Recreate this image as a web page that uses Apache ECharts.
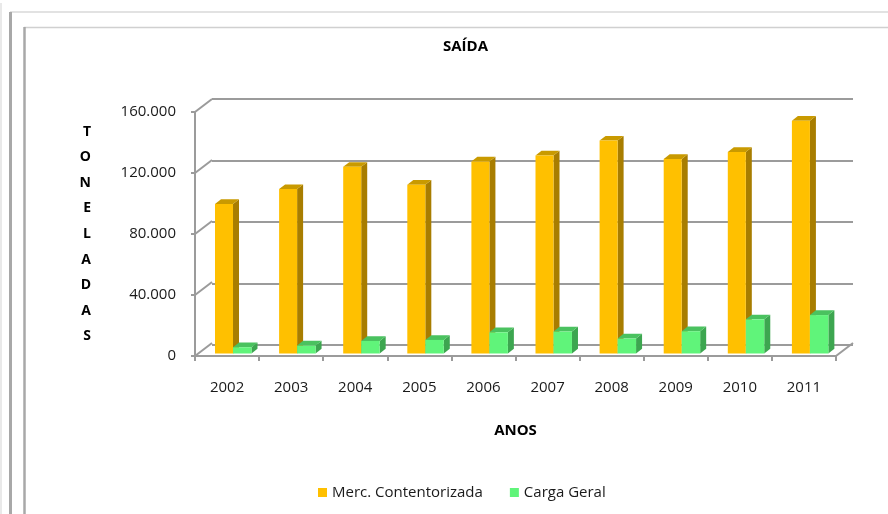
<!DOCTYPE html>
<html>
<head>
<meta charset="utf-8">
<script src="https://cdn.jsdelivr.net/npm/echarts@6/dist/echarts.min.js"></script>
<style>
  html, body { margin: 0; padding: 0; background: #fff; }
  #chart { width: 888px; height: 514px; }
</style>
</head>
<body>
<div id="chart"></div>
<script>
// dados
const years = ["2002", "2003", "2004", "2005", "2006", "2007", "2008", "2009", "2010", "2011"];
const mercContentorizada = [98000, 107800, 122400, 110700, 125900, 129800, 139600, 127600, 132200, 152700];
const cargaGeral = [4100, 5200, 8200, 8900, 13900, 14400, 9800, 14600, 22400, 25200];
const yTicks = [0, 40000, 80000, 120000, 160000];

const FONT = "Open Sans";
const GRID_COLOR = "#9b9b9b";
const DEPTH_X = 17, DEPTH_Y = 13; // profundidade da parede (perspectiva)
const BAR_DX = 6, BAR_DY = 4.7;   // profundidade das barras

function fmt(v) {
  return String(v).replace(/\B(?=(\d{3})+(?!\d))/g, ".");
}

// barra 3D: face frontal, lateral e topo
function bar3d(fromFrac, toFrac, front, side, top) {
  return function (params, api) {
    const i = api.value(0);
    const v = api.value(1);
    const band = api.size([1, 0])[0];
    const left = api.coord([i, 0])[0] - band / 2;
    const x0 = left + band * fromFrac;
    const x1 = left + band * toFrac;
    const yb = api.coord([i, 0])[1] - 2.5;
    const yt = api.coord([i, v])[1] - 2.5;
    return {
      type: "group",
      children: [
        { type: "polygon", shape: { points: [[x1, yt], [x1 + BAR_DX, yt - BAR_DY], [x1 + BAR_DX, yb - BAR_DY], [x1, yb]] }, style: { fill: side } },
        { type: "polygon", shape: { points: [[x0, yt], [x1, yt], [x1 + BAR_DX, yt - BAR_DY], [x0 + BAR_DX, yt - BAR_DY]] }, style: { fill: top } },
        { type: "rect", shape: { x: x0, y: yt, width: x1 - x0, height: yb - yt }, style: { fill: front } }
      ]
    };
  };
}

// linhas diagonais da parede lateral e do chão
function wallLines(params, api) {
  const cs = params.coordSys;
  const v = api.value(1);
  const y = api.coord([0, v])[1];
  const children = [
    { type: "line", shape: { x1: cs.x, y1: y, x2: cs.x + DEPTH_X, y2: y - DEPTH_Y }, style: { stroke: GRID_COLOR, lineWidth: 2 } }
  ];
  if (v === 0) {
    children.push({ type: "line", shape: { x1: cs.x + cs.width, y1: y, x2: cs.x + cs.width + DEPTH_X, y2: y - DEPTH_Y }, style: { stroke: GRID_COLOR, lineWidth: 2 } });
  }
  return { type: "group", children: children };
}

const chart = echarts.init(document.getElementById("chart"));

const option = {
  backgroundColor: "#fff",
  animation: false,
  textStyle: { fontFamily: FONT },
  title: {
    text: "SAÍDA",
    left: 443,
    top: 39,
    padding: 0,
    textStyle: { fontFamily: FONT, fontSize: 15, fontWeight: "bold", color: "#000" }
  },
  legend: {
    data: ["Merc. Contentorizada", "Carga Geral"],
    left: 313,
    top: 480,
    icon: "rect",
    itemWidth: 9,
    itemHeight: 9,
    itemGap: 27,
    textStyle: { fontFamily: FONT, fontSize: 15, color: "#1a1a1a" }
  },
  graphic: [
    { type: "line", shape: { x1: 1, y1: 3, x2: 1, y2: 514 }, style: { stroke: "#e2e2e2", lineWidth: 1.5 } },
    { type: "line", shape: { x1: 10, y1: 12, x2: 888, y2: 12 }, style: { stroke: "#d8d8d8", lineWidth: 1.5 } },
    { type: "line", shape: { x1: 10.5, y1: 12, x2: 10.5, y2: 514 }, style: { stroke: "#a8a8a8", lineWidth: 3 } },
    { type: "line", shape: { x1: 24, y1: 27.5, x2: 888, y2: 27.5 }, style: { stroke: "#d0d0d0", lineWidth: 1.5 } },
    { type: "line", shape: { x1: 24.5, y1: 27, x2: 24.5, y2: 514 }, style: { stroke: "#a8a8a8", lineWidth: 2.5 } }
  ],
  grid: [
    { left: 195, right: 52, top: 112, bottom: 158 },
    { left: 212, right: 35, top: 99, bottom: 169 }
  ],
  xAxis: [
    {
      type: "category",
      gridIndex: 0,
      data: years,
      name: "ANOS",
      nameLocation: "middle",
      nameGap: 67,
      nameTextStyle: { fontFamily: FONT, fontSize: 15, fontWeight: "bold", color: "#000" },
      axisLine: { show: true, lineStyle: { color: GRID_COLOR, width: 2 } },
      axisTick: { show: true, length: 5, interval: 0, lineStyle: { color: GRID_COLOR, width: 2 } },
      axisLabel: { margin: 24, fontFamily: FONT, fontSize: 15, color: "#1a1a1a" },
      splitLine: { show: false }
    },
    {
      type: "category",
      gridIndex: 1,
      data: years,
      show: false
    }
  ],
  yAxis: [
    {
      type: "value",
      gridIndex: 0,
      min: 0,
      max: 160000,
      interval: 40000,
      name: "T\nO\nN\nE\nL\nA\nD\nA\nS",
      nameLocation: "middle",
      nameRotate: 0,
      nameGap: 104,
      nameTextStyle: { fontFamily: FONT, fontSize: 14, fontWeight: "bold", color: "#000", lineHeight: 25.6 },
      axisLine: { show: true, lineStyle: { color: GRID_COLOR, width: 2 } },
      axisTick: { show: true, length: 4, lineStyle: { color: GRID_COLOR, width: 2 } },
      axisLabel: { margin: 19, fontFamily: FONT, fontSize: 15, color: "#1a1a1a", formatter: fmt },
      splitLine: { show: false }
    },
    {
      type: "value",
      gridIndex: 1,
      min: 0,
      max: 160000,
      interval: 40000,
      axisLine: { show: false },
      axisTick: { show: false },
      axisLabel: { show: false },
      splitLine: { show: true, lineStyle: { color: GRID_COLOR, width: 2 } }
    }
  ],
  series: [
    {
      name: "wall",
      type: "custom",
      xAxisIndex: 0,
      yAxisIndex: 0,
      silent: true,
      renderItem: wallLines,
      data: yTicks.map(v => [0, v]),
      z: 1
    },
    {
      name: "Merc. Contentorizada",
      type: "custom",
      xAxisIndex: 0,
      yAxisIndex: 0,
      itemStyle: { color: "#FFC000" },
      renderItem: bar3d(0.312, 0.593, "#FFC000", "#A87D00", "#C99A00"),
      encode: { x: 0, y: 1 },
      data: mercContentorizada.map((v, i) => [i, v]),
      z: 3
    },
    {
      name: "Carga Geral",
      type: "custom",
      xAxisIndex: 0,
      yAxisIndex: 0,
      itemStyle: { color: "#60F47A" },
      renderItem: bar3d(0.593, 0.881, "#60F47A", "#3DA650", "#4AC25F"),
      encode: { x: 0, y: 1 },
      data: cargaGeral.map((v, i) => [i, v]),
      z: 4
    }
  ]
};

chart.setOption(option);
</script>
</body>
</html>
